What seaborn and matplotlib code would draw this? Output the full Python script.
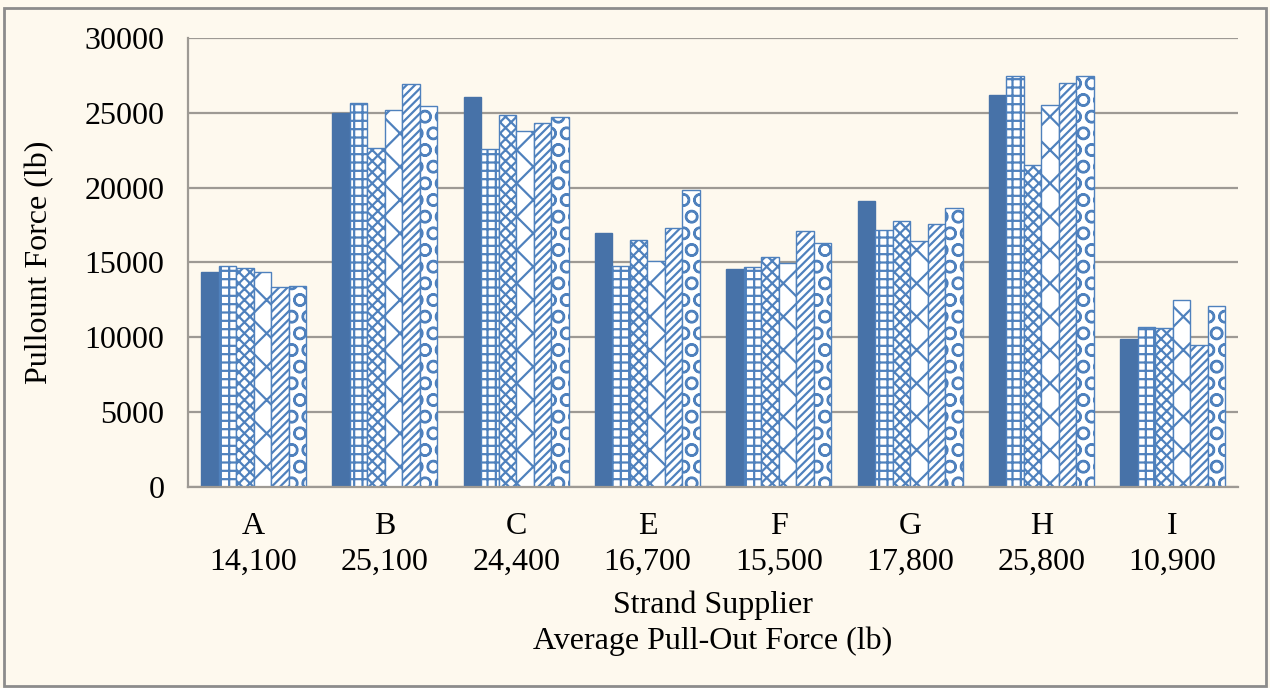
import pandas as pd
import matplotlib
matplotlib.use("Agg")
import matplotlib.pyplot as plt
import seaborn as sns
from matplotlib.patches import Rectangle

# Data
suppliers = ["A", "B", "C", "E", "F", "G", "H", "I"]
avg_force = ["14,100", "25,100", "24,400", "16,700", "15,500", "17,800", "25,800", "10,900"]
specimens = ["S1", "S2", "S3", "S4", "S5", "S6"]

s1 = [14380, 24960, 26070, 16990, 14560, 19100, 26190, 9860]
s2 = [14780, 25670, 22560, 14780, 14680, 17170, 27420, 10710]
s3 = [14630, 22620, 24850, 16500, 15340, 17790, 21510, 10600]
s4 = [14380, 25180, 23800, 15100, 14940, 16430, 25520, 12490]
s5 = [13380, 26900, 24290, 17320, 17100, 17570, 26970, 9480]
s6 = [13450, 25470, 24700, 19840, 16280, 18610, 27450, 12090]

series = [s1, s2, s3, s4, s5, s6]
rows = []
for name, vals in zip(specimens, series):
    for sup, v in zip(suppliers, vals):
        rows.append({"supplier": sup, "specimen": name, "force": v})
df = pd.DataFrame(rows)

BG = "#FEF9EE"
BLUE = "#4F81BD"
SOLID = "#4772A8"
GRID = "#9E9A94"
FS = 23

sns.set_theme(style="white")
plt.rcParams["font.family"] = ["Liberation Serif", "DejaVu Serif"]
plt.rcParams["hatch.linewidth"] = 1.6
plt.rcParams["text.color"] = "black"
plt.rcParams["axes.labelcolor"] = "black"

fig = plt.figure(figsize=(12.7, 6.88), dpi=100, facecolor=BG)
ax = fig.add_axes([0.148, 0.292, 0.827, 0.653])
ax.set_facecolor(BG)

sns.barplot(data=df, x="supplier", y="force", hue="specimen", order=suppliers,
            hue_order=specimens, width=0.8, gap=0, legend=False, ax=ax,
            palette=[BLUE] * 6, saturation=1)

hatches = ["", "++", "xxx", "x", "////", "O"]
n = len(suppliers)
for i, bar in enumerate(ax.patches):
    k = i // n
    if k == 0:
        bar.set_facecolor(SOLID)
        bar.set_edgecolor(SOLID)
    else:
        bar.set_facecolor("white")
        bar.set_edgecolor(BLUE)
        bar.set_hatch(hatches[k])
        bar.set_linewidth(1.0)

ax.set_ylim(0, 30000)
ax.set_xlim(-0.5, n - 0.5)
ax.set_yticks(range(0, 30001, 5000))
ax.yaxis.grid(True, color=GRID, lw=1.6)
ax.set_axisbelow(True)

ax.set_xticks(range(n))
ax.set_xticklabels([f"{s}\n{a}" for s, a in zip(suppliers, avg_force)],
                   fontsize=FS, linespacing=1.3)
ax.set_xticks([i - 0.5 for i in range(n + 1)], minor=True)
ax.tick_params(axis="x", which="major", length=0, pad=18, labelcolor="black")
ax.tick_params(axis="x", which="minor", length=9, width=1.5, color=GRID, direction="out")
ax.tick_params(axis="y", length=8, width=1.5, color=GRID, direction="out",
               labelsize=FS, pad=9, labelcolor="black")

for side in ["top", "right"]:
    ax.spines[side].set_visible(False)
for side in ["left", "bottom"]:
    ax.spines[side].set_color(GRID)
    ax.spines[side].set_linewidth(1.6)

ax.set_xlabel("Strand Supplier\nAverage Pull-Out Force (lb)", fontsize=FS,
              linespacing=1.3, labelpad=10)
ax.set_ylabel("Pullount Force (lb)", fontsize=FS, labelpad=22)

fig.patches.append(Rectangle((0.003, 0.003), 0.994, 0.986, transform=fig.transFigure,
                             fill=False, edgecolor="#8C8C8C", lw=2))

fig.savefig("out.png", dpi=100, facecolor=BG)
